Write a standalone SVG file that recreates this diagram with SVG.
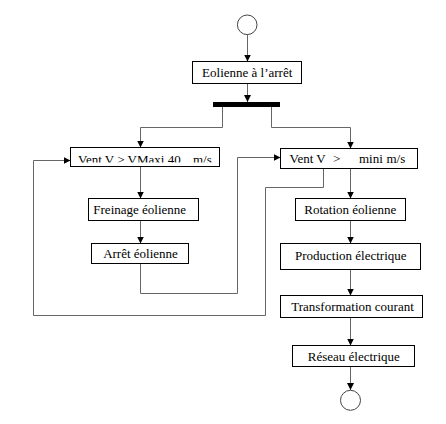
<svg xmlns="http://www.w3.org/2000/svg" width="446" height="424" viewBox="0 0 446 424">
<style>
.box{fill:#fff;stroke:#000;stroke-width:1}
.t{font-family:"Liberation Serif","Times New Roman",serif;font-size:13px;fill:#000}
.c{text-anchor:middle}
.ln{fill:none;stroke:#666;stroke-width:1}
.st{fill:#fff;stroke:#444;stroke-width:1}
</style>
<defs>
<marker id="ar" markerUnits="userSpaceOnUse" markerWidth="8" markerHeight="8" refX="7" refY="4" orient="auto">
<path d="M0,0.5 L7,4 L0,7.5 z" fill="#000"/>
</marker>
<clipPath id="clipV"><rect x="70" y="147" width="150" height="15.5"/></clipPath>
</defs>
<g id="connectors">
<line class="ln" x1="247.5" y1="35" x2="247.5" y2="61.5" marker-end="url(#ar)"/>
<line class="ln" x1="247.5" y1="83.5" x2="247.5" y2="102" marker-end="url(#ar)"/>
<path class="ln" d="M222.5 107 V127.5 H140.5 V147.5" marker-end="url(#ar)"/>
<path class="ln" d="M271.5 107 V127.5 H350.5 V148.5" marker-end="url(#ar)"/>
<line class="ln" x1="140.5" y1="166.5" x2="140.5" y2="198.5" marker-end="url(#ar)"/>
<line class="ln" x1="140.5" y1="220.5" x2="140.5" y2="243.5" marker-end="url(#ar)"/>
<path class="ln" d="M140.5 263.5 V293.5 H237.5 V157.5 H280.5" marker-end="url(#ar)"/>
<path class="ln" d="M323.5 168.5 V187.5 H265.5 V315.5 H33.5 V160.5 H70.5" marker-end="url(#ar)"/>
<line class="ln" x1="350.5" y1="168.5" x2="350.5" y2="198.5" marker-end="url(#ar)"/>
<line class="ln" x1="350.5" y1="220.5" x2="350.5" y2="243.5" marker-end="url(#ar)"/>
<line class="ln" x1="350.5" y1="269.5" x2="350.5" y2="295.5" marker-end="url(#ar)"/>
<line class="ln" x1="350.5" y1="317.5" x2="350.5" y2="345.5" marker-end="url(#ar)"/>
<line class="ln" x1="350.5" y1="366.5" x2="350.5" y2="390" marker-end="url(#ar)"/>
</g>
<g id="start"><circle class="st" cx="247.2" cy="24.8" r="9.8"/></g>
<g id="eolienne-arret">
<rect class="box" x="192.5" y="61.5" width="109" height="22"/>
<text class="t c" x="247.2" y="77">Eolienne à l’arrêt</text>
</g>
<g id="bar"><rect x="213" y="102" width="67" height="5" fill="#000"/></g>
<g id="vent-vmaxi">
<rect class="box" x="70.5" y="147.5" width="149" height="19"/>
<text class="t" x="78" y="164" clip-path="url(#clipV)">Vent V &gt; VMaxi 40</text>
<text class="t" x="193" y="164" clip-path="url(#clipV)">m/s</text>
</g>
<g id="vent-mini">
<rect class="box" x="280.5" y="148.5" width="137" height="20"/>
<text class="t" x="289.5" y="162.7">Vent V</text>
<text class="t" x="333" y="162.7">&gt;</text>
<text class="t" x="359" y="162.7">mini</text>
<text class="t" x="386.5" y="162.7">m/s</text>
</g>
<g id="freinage">
<rect class="box" x="88.5" y="198.5" width="110" height="22"/>
<text class="t c" x="139.7" y="214">Freinage éolienne</text>
</g>
<g id="arret-eolienne">
<rect class="box" x="91.5" y="243.5" width="97" height="20"/>
<text class="t c" x="140.5" y="258.3">Arrêt éolienne</text>
</g>
<g id="rotation">
<rect class="box" x="295.5" y="198.5" width="110" height="22"/>
<text class="t c" x="350.3" y="214">Rotation éolienne</text>
</g>
<g id="production">
<rect class="box" x="280.5" y="243.5" width="140" height="26"/>
<text class="t c" x="350.8" y="260">Production électrique</text>
</g>
<g id="transformation">
<rect class="box" x="280.5" y="295.5" width="142" height="22"/>
<text class="t c" x="352.5" y="310.5">Transformation courant</text>
</g>
<g id="reseau">
<rect class="box" x="292.5" y="345.5" width="122" height="21"/>
<text class="t c" x="353.8" y="360.5">Réseau électrique</text>
</g>
<g id="end"><circle class="st" cx="350.5" cy="400.3" r="10"/></g>
</svg>
